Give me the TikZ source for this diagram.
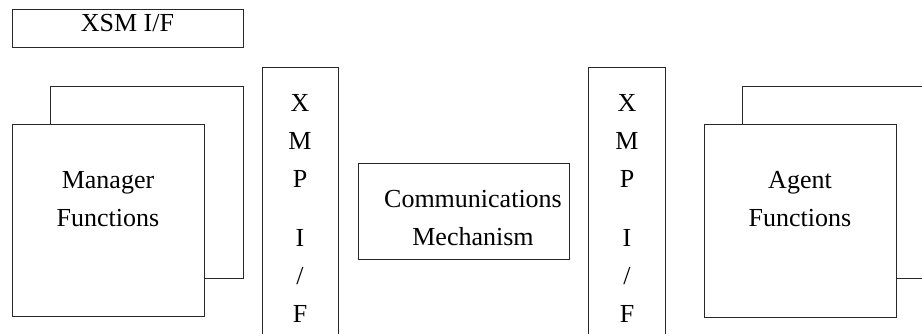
\documentclass[tikz,border=0pt]{standalone}
\usepackage{fontspec}
\setmainfont{Liberation Serif}
\definecolor{linegray}{RGB}{40,40,40}
\tikzset{
  blk/.style={draw=linegray, fill=white, line width=0.9pt, inner sep=0pt},
  lbl/.style={font=\fontsize{26}{38}\selectfont, align=center, inner sep=0pt},
}

\begin{document}
\begin{tikzpicture}[x=1pt, y=-1pt]
        \clip (0,0) rectangle (922,333);

        % XSM interface
        \node[blk, minimum width=231, minimum height=38] (xsm) at (127.5,28) {};
        \node[lbl, anchor=base] (xsmtxt) at (127.5,31) {XSM I/F};

        % Manager side
        \node[blk, minimum width=193, minimum height=192] (mgrback) at (146.5,182) {};
        \node[blk, minimum width=192, minimum height=192] (mgr) at (108,220) {};
        \node[lbl] (mgrtxt) at (108,199) {Manager\\Functions};

        % XMP interfaces
        \node[blk, minimum width=76, minimum height=280] (xmpl) at (300,207) {};
        \node[lbl] (xmpltxt) at (300,208) {X\\M\\P\\[21pt]I\\/\\F};
        \node[blk, minimum width=77, minimum height=280] (xmpr) at (626.5,207) {};
        \node[lbl] (xmprtxt) at (627,208) {X\\M\\P\\[21pt]I\\/\\F};

        % Communications
        \node[blk, minimum width=211, minimum height=96] (comm) at (463.5,211) {};
        \node[lbl] (commtxt) at (473,218) {Communications\\Mechanism};

        % Agent side
        \node[blk, minimum width=193, minimum height=192] (agtback) at (838.5,182) {};
        \node[blk, minimum width=192, minimum height=193] (agt) at (800,220.5) {};
        \node[lbl] (agttxt) at (800,199) {Agent\\Functions};
    \end{tikzpicture}
\end{document}
